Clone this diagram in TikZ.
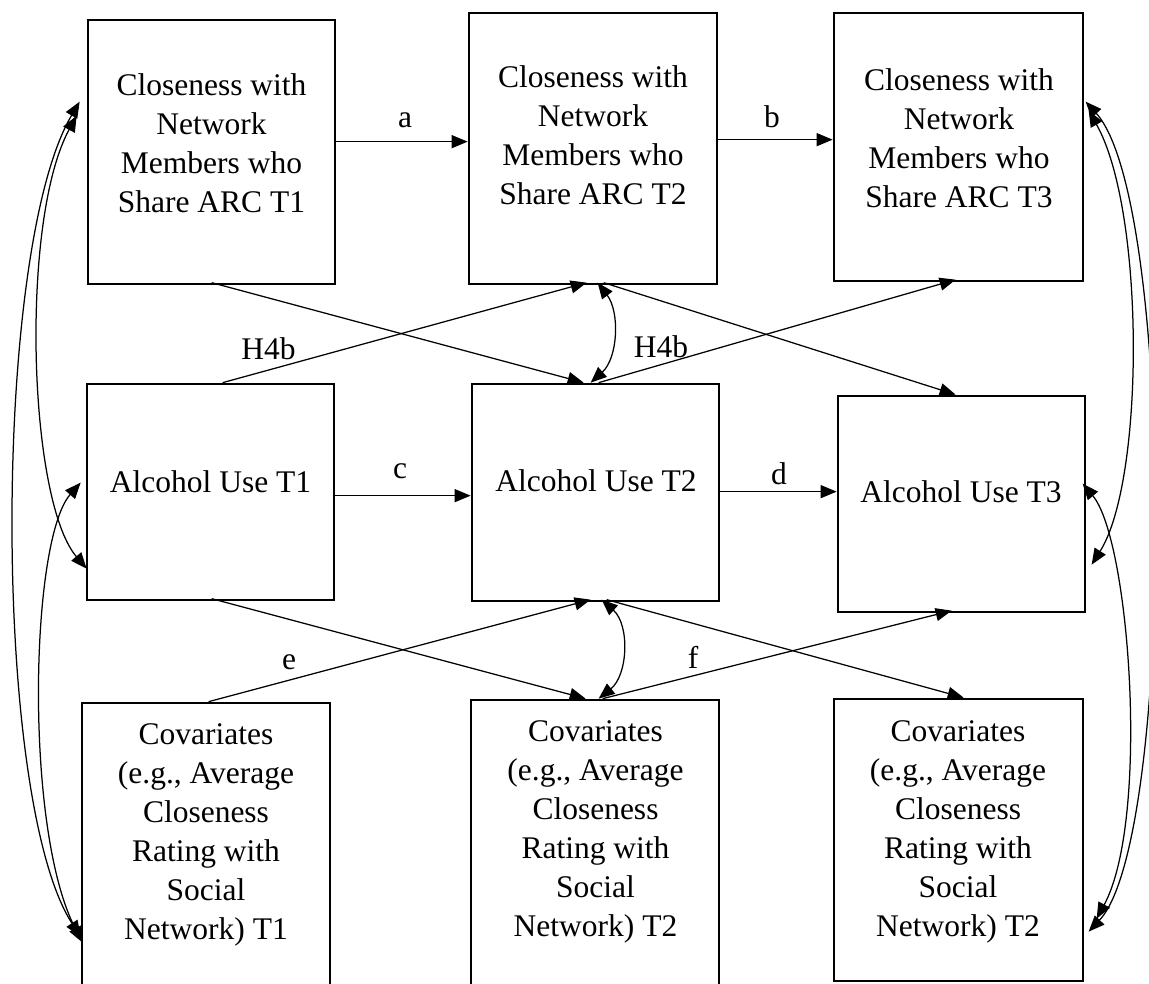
\documentclass[tikz,border=0pt]{standalone}
\usepackage{fontspec}
\setmainfont{Liberation Serif}
\usetikzlibrary{arrows.meta,calc}
\tikzset{
  box/.style={draw, line width=2.7pt, inner sep=0pt},
  txt/.style={align=center, anchor=north, inner sep=0pt, font=\fontsize{31.5}{39}\selectfont},
  lbl/.style={anchor=base, inner sep=0pt, font=\fontsize{31.5}{39}\selectfont},
  tip/.tip={Triangle[length=16pt,width=13pt]},
  conn/.style={line width=1.25pt, -tip},
  both/.style={line width=1.25pt, tip-tip},
}
\begin{document}
\begin{tikzpicture}[x=1pt,y=-1pt]
\useasboundingbox (0,0) rectangle (1149,983);
\clip (0,0) rectangle (1149,983);

% boxes
\node[box, minimum width=247, minimum height=264] (b1) at (211.5,152) {};
\node[box, minimum width=248, minimum height=271] (b2) at (593,148.5) {};
\node[box, minimum width=249, minimum height=268] (b3) at (958.5,147) {};
\node[box, minimum width=247, minimum height=216] (b4) at (210.5,492) {};
\node[box, minimum width=247, minimum height=217] (b5) at (595.5,492.5) {};
\node[box, minimum width=247, minimum height=216] (b6) at (961.5,504) {};
\node[box, minimum width=248, minimum height=320] (b7) at (206,863) {};
\node[box, minimum width=248, minimum height=320] (b8) at (595,860) {};
\node[box, minimum width=249, minimum height=282] (b9) at (958.5,840) {};

% box texts
\node[txt] (t1) at (211.5,73) {Closeness with\\Network\\Members who\\Share ARC T1};
\node[txt] (t2) at (593,65) {Closeness with\\Network\\Members who\\Share ARC T2};
\node[txt] (t3) at (959,68) {Closeness with\\Network\\Members who\\Share ARC T3};
\node[txt] (t4) at (210.5,470) {Alcohol Use T1};
\node[txt] (t5) at (596,469) {Alcohol Use T2};
\node[txt] (t6) at (961,480) {Alcohol Use T3};
\node[txt] (t7) at (206,723) {Covariates\\(e.g., Average\\Closeness\\Rating with\\Social\\Network) T1};
\node[txt] (t8) at (595.5,720) {Covariates\\(e.g., Average\\Closeness\\Rating with\\Social\\Network) T2};
\node[txt] (t9) at (958,720) {Covariates\\(e.g., Average\\Closeness\\Rating with\\Social\\Network) T2};

% path labels
\node[lbl] (la) at (405,127) {a};
\node[lbl] (lb) at (772,127) {b};
\node[lbl] (lc) at (400,478) {c};
\node[lbl] (ld) at (779,484) {d};
\node[lbl] (lh1) at (268.5,359) {H4b};
\node[lbl] (lh2) at (661,357) {H4b};
\node[lbl] (le) at (289,669) {e};
\node[lbl] (lf) at (693,668) {f};

% autoregressive paths
\draw[conn] ($(b1.north west)+(247,123)$) -- ($(b2.north west)+(0,130)$);
\draw[conn] ($(b2.north west)+(248,128)$) -- ($(b3.north west)+(0,128)$);
\draw[conn] ($(b4.north west)+(247,113)$) -- ($(b5.north west)+(0,113)$);
\draw[conn] ($(b5.north west)+(247,109)$) -- ($(b6.north west)+(0,97)$);

% cross-lagged paths, closeness and alcohol use
\draw[conn] ($(b1.north west)+(125,264)$) -- ($(b5.north west)+(113,0)$);
\draw[conn] ($(b4.north west)+(137,0)$) -- ($(b2.north west)+(119,271)$);
\draw[conn] ($(b2.north west)+(136,271)$) -- ($(b6.north west)+(119,0)$);
\draw[conn] ($(b5.north west)+(128,0)$) -- ($(b3.north west)+(123,268)$);
\draw[both] ($(b2.north west)+(130,271)$) .. controls (620,312) and (618,358) .. ($(b5.north west)+(120,0)$);

% cross-lagged paths, alcohol use and covariates
\draw[conn] ($(b4.north west)+(126,216)$) -- ($(b8.north west)+(116,0)$);
\draw[conn] ($(b7.north west)+(128,0)$) -- ($(b5.north west)+(120,217)$);
\draw[conn] ($(b5.north west)+(136,217)$) -- ($(b9.north west)+(131,0)$);
\draw[conn] ($(b8.north west)+(133,0)$) -- ($(b6.north west)+(115,216)$);
\draw[both] ($(b5.north west)+(131,217)$) .. controls (630,625) and (628,675) .. ($(b8.north west)+(129,0)$);

% within-time covariances, left column
\draw[both] ($(b1.north west)+(-7,83)$) .. controls (-8,250) and (-8,800) .. ($(b7.north west)+(0,235)$);
\draw[both] ($(b1.north west)+(-10,97)$) .. controls (20,220) and (28,500) .. ($(b4.north west)+(1,186)$);
\draw[both] ($(b4.north west)+(-5,100)$) .. controls (30,540) and (24,830) .. ($(b7.north west)+(2,241)$);

% within-time covariances, right column
\draw[both] ($(b3.north west)+(253,90)$) .. controls (1175,200) and (1175,840) .. ($(b9.north west)+(256,234)$);
\draw[both] ($(b3.north west)+(256,99)$) .. controls (1145,210) and (1145,480) .. ($(b6.north west)+(255,170)$);
\draw[both] ($(b6.north west)+(246,89)$) .. controls (1130,540) and (1150,820) .. ($(b9.north west)+(264,221)$);
\end{tikzpicture}
\end{document}
